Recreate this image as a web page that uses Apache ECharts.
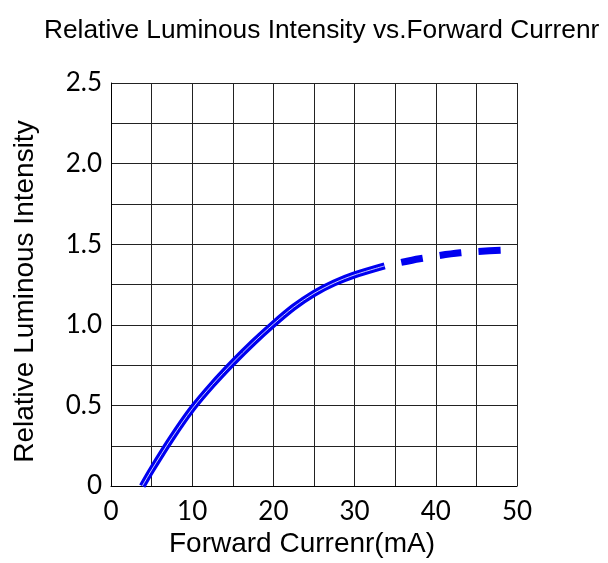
<!DOCTYPE html>
<html><head><meta charset="utf-8">
<script src="https://cdn.jsdelivr.net/npm/echarts@6/dist/echarts.min.js"></script>
<style>html,body{margin:0;padding:0;background:#fff}#c{width:608px;height:563px}</style>
</head><body><div id="c"></div>
<script>
const titleText = 'Relative Luminous Intensity vs.Forward Currenr';
const xName = 'Forward Currenr(mA)';
const yName = 'Relative Luminous Intensity';
const solidCurve = [[3.85,0],[5,0.1],[7.5,0.3],[10,0.48],[12.5,0.63],[15,0.765],[17.5,0.89],[20,1.005],[22.5,1.11],[25,1.195],[27.5,1.26],[30,1.31],[33.7,1.366]];
const dashedCurve = [[33.7,1.366],[38,1.41],[43,1.447],[48,1.463]];
const yTickLabels = {'0':'0','0.5':'0.5','1':'1.0','1.5':'1.5','2':'2.0','2.5':'2.5'};

const chart = echarts.init(document.getElementById('c'));
chart.setOption({
  backgroundColor:'#fff',
  animation:false,
  title:{text:titleText,left:44,top:18,padding:0,textStyle:{fontFamily:'Liberation Sans',fontSize:26.3,fontWeight:'normal',color:'#000'}},
  grid:{left:111,right:91,top:83,bottom:74},
  xAxis:{type:'value',min:0,max:50,interval:5,
    name:xName,nameLocation:'middle',nameGap:43,
    nameTextStyle:{fontFamily:'Liberation Sans',fontSize:28,color:'#000',padding:[0,24,0,0]},
    axisLine:{show:true,lineStyle:{color:'#000',width:1}},axisTick:{show:false},
    axisLabel:{margin:13,fontFamily:'Lato',fontSize:26,color:'#000',formatter:v=>v%10===0?String(v):''},
    splitLine:{show:true,lineStyle:{color:'#222',width:1}}},
  yAxis:{type:'value',min:0,max:2.5,interval:0.25,
    name:yName,nameLocation:'middle',nameGap:72,
    nameTextStyle:{fontFamily:'Liberation Sans',fontSize:28,color:'#000',padding:[0,14,0,0]},
    axisLine:{show:true,lineStyle:{color:'#000',width:1}},axisTick:{show:false},
    axisLabel:{margin:9,fontFamily:'Lato',fontSize:26,color:'#000',formatter:v=>{const k=String(Math.round(v*100)/100);return yTickLabels[k]!==undefined?yTickLabels[k]:'';}},
    splitLine:{show:true,lineStyle:{color:'#222',width:1}}},
  series:[
    {type:'line',data:solidCurve,smooth:0.3,symbol:'none',lineStyle:{color:'#0000f0',width:7,cap:'butt'},z:3},
    {type:'line',data:solidCurve,smooth:0.3,symbol:'none',lineStyle:{color:'#ffffff',width:0.8},z:4},
    {type:'line',data:dashedCurve,smooth:0.3,symbol:'none',lineStyle:{color:'#0000f0',width:7,type:[22,17],dashOffset:22,cap:'butt'},z:3}
  ]
});
</script></body></html>
